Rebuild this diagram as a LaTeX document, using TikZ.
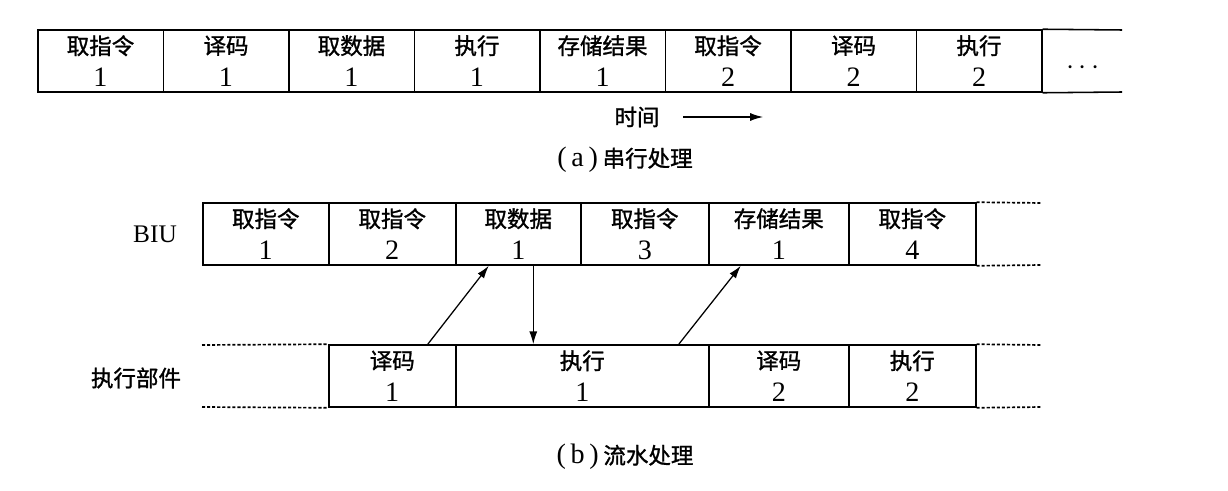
\documentclass[tikz,border=0pt]{standalone}
\usepackage{fontspec}
\setmainfont{Liberation Serif}
\newfontfamily\cjk[Scale=0.8, FakeBold=1.2]{Noto Sans CJK SC}
\usetikzlibrary{arrows.meta,calc}

\tikzset{
  cell/.style={draw, line width=1.1pt, minimum height=62*0.025cm, inner sep=0pt,
    anchor=west, align=center, font=\fontsize{20}{23}\selectfont},
  dotline/.style={line width=1.2pt, dash pattern=on 2.2pt off 1.4pt},
  link/.style={-{Latex[length=3.2mm,width=2mm]}, line width=0.9pt},
  lbl/.style={font=\fontsize{20}{23}\selectfont}
}

\begin{document}
\begin{tikzpicture}[x=0.025cm, y=-0.025cm]
  \useasboundingbox (0,0) rectangle (1228,491);
  % (a) serial processing
  \foreach \n/\t/\k in {1/取指令/1, 2/译码/1, 3/取数据/1, 4/执行/1, 5/存储结果/1,
      6/取指令/2, 7/译码/2, 8/执行/2}{
    \node[cell, minimum width=125.5*0.025cm] (A-\n) at ({37+125.5*(\n-1)}, 61) {{\cjk \t}\\\k};
  }
  \node[lbl] (A-9) at (1083, 68) {$\cdots$};
  \coordinate (A-tn) at (1122, 30);
  \coordinate (A-ts) at (1122, 92);
  \draw[line width=1.1pt] (A-8.north east) -- (A-tn);
  \draw[line width=1.1pt] (A-8.south east) -- (A-ts);
  \node[lbl] (time) at (637, 117) {\cjk 时间};
  \coordinate (t-0) at (683, 117);
  \coordinate (t-1) at (763, 117);
  \draw[link] (t-0) -- (t-1);
  \node[lbl] (cap-a) at (625, 160) {(\,a\,)\,{\cjk 串行处理}};

  % (b) pipelined processing
  \foreach \n/\x/\w/\t/\k in {1/202/126/取指令/1, 2/328/127/取指令/2, 3/455/125/取数据/1,
      4/580/128/取指令/3, 5/708/140/存储结果/1, 6/848/127/取指令/4}{
    \node[cell, minimum width=\w*0.025cm] (B-\n) at (\x, 234) {{\cjk \t}\\\k};
  }
  \foreach \n/\x/\w/\t/\k in {1/328/127/译码/1, 2/455/253/执行/1, 3/708/140/译码/2, 4/848/127/执行/2}{
    \node[cell, minimum width=\w*0.025cm] (E-\n) at (\x, 376) {{\cjk \t}\\\k};
  }
  \node[font=\fontsize{18}{20}\selectfont] (biu) at (155, 234) {BIU};
  \node[lbl] (eu) at (136, 378) {\cjk 执行部件};

  \coordinate (B-dn) at (1042, 203);
  \coordinate (B-ds) at (1042, 265);
  \coordinate (E-dn) at (1042, 345);
  \coordinate (E-ds) at (1042, 407);
  \coordinate (E-ln) at (202, 345);
  \coordinate (E-ls) at (202, 407);
  \draw[dotline] (B-6.north east) -- (B-dn);
  \draw[dotline] (B-6.south east) -- (B-ds);
  \draw[dotline] (E-4.north east) -- (E-dn);
  \draw[dotline] (E-4.south east) -- (E-ds);
  \draw[dotline] (E-ln) -- (E-1.north west);
  \draw[dotline] (E-ls) -- (E-1.south west);

  \draw[link] ($(E-1.north)+(35.5,0)$) -- ($(B-3.south)+(-29.5,0)$);
  \draw[link] ($(B-3.south)+(15,0)$) coordinate (d) -- (d |- E-2.north);
  \draw[link] ($(E-2.north)+(96.5,0)$) -- ($(B-5.south)+(-38,0)$);

  \node[lbl] (cap-b) at (625, 457) {(\,b\,)\,{\cjk 流水处理}};
\end{tikzpicture}
\end{document}
